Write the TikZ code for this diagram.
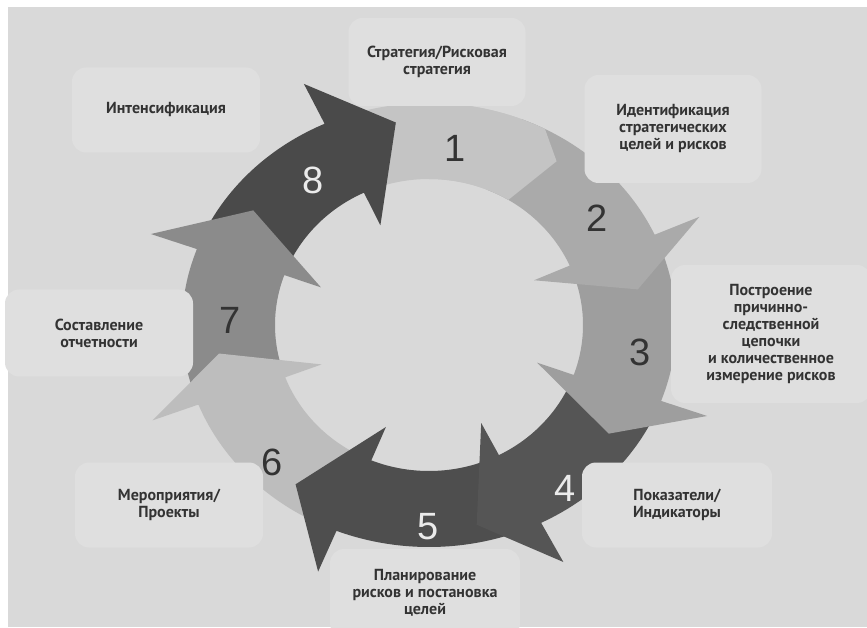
\documentclass[tikz,border=0pt]{standalone}
\usepackage{fontspec}
\setmainfont{PT Sans}
\newfontfamily\numfont{Liberation Sans}
\definecolor{paper}{HTML}{D9D9D9}
\definecolor{boxgray}{HTML}{DFDFDF}
\definecolor{labeltext}{HTML}{333333}
\definecolor{segA}{HTML}{C4C4C4}
\definecolor{segB}{HTML}{AAAAAA}
\definecolor{segC}{HTML}{9E9E9E}
\definecolor{segD}{HTML}{555555}
\definecolor{segE}{HTML}{4E4E4E}
\definecolor{segF}{HTML}{BDBDBD}
\definecolor{segG}{HTML}{8B8B8B}
\definecolor{segH}{HTML}{4A4A4A}
% #1 colour, #2 tail angle, #3 head base angle, #4 tip angle
% ring: outer 247/222, inner 154/146, barbs 296/266 and 115/110, tip 212/205
\newcommand{\ringarrow}[4]{%
  \fill[#1] (#2:247pt and 222pt) arc[start angle=#2, end angle=#3, x radius=247pt, y radius=222pt]
    -- (#3:296pt and 266pt) -- (#4:212pt and 205pt) -- (#3:115pt and 110pt)
    -- (#3:154pt and 146pt) arc[start angle=#3, end angle=#2, x radius=154pt, y radius=146pt] -- cycle;}
% arrow 1 ends in a plain point
\newcommand{\firstarrow}{%
  \fill[segA] (118:247pt and 222pt) arc[start angle=118, end angle=62, x radius=247pt, y radius=222pt]
    -- (53:212pt and 205pt) -- (59:154pt and 146pt)
    arc[start angle=59, end angle=118, x radius=154pt, y radius=146pt] -- cycle;}
\tikzset{
  stage/.style={fill=boxgray, rounded corners=14pt, text=labeltext, align=center,
    font=\bfseries\fontsize{16}{17}\selectfont, inner sep=0pt},
  darknum/.style={font=\numfont\fontsize{38}{38}\selectfont, text=labeltext},
  lightnum/.style={font=\numfont\fontsize{38}{38}\selectfont, text=white!92!black},
}
\begin{document}
\begin{tikzpicture}[x=1pt,y=1pt]
  \useasboundingbox (0,0) rectangle (867,627);
  \clip (0,0) rectangle (867,627);
  \fill[white] (0,0) rectangle (867,627);
  \fill[paper] (8,0) rectangle (867,620);

  % cycle of arrows
  \begin{scope}[shift={(429,302)}]
    \firstarrow
    \ringarrow{segH}{-200}{-245}{-261}
    \ringarrow{segG}{-159}{-200}{-214}
    \ringarrow{segF}{-112}{-159}{-172}
    \ringarrow{segE}{-63}{-112}{-129}
    \ringarrow{segD}{-20}{-63}{-77}
    \ringarrow{segC}{24}{-20}{-32}
    \ringarrow{segB}{68}{24}{10}
    \begin{scope}
      \clip (0,0) -- (0:400pt) -- (90:400pt) -- cycle;
      \firstarrow
    \end{scope}
  \end{scope}

  \node[darknum] (n1) at (455,479) {1};
  \node[darknum] (n2) at (597,409) {2};
  \node[darknum] (n3) at (640,275) {3};
  \node[lightnum] (n4) at (565,139) {4};
  \node[lightnum] (n5) at (428,100) {5};
  \node[darknum] (n6) at (272,165) {6};
  \node[darknum] (n7) at (230,307) {7};
  \node[lightnum] (n8) at (313,447) {8};

  % labels
  \node[stage, minimum width=177pt, minimum height=88pt] (strategy) at (437,565) {Стратегия/Рисковая\\стратегия};
  \node[stage, minimum width=188pt, minimum height=85pt] (intens) at (166,517) {Интенсификация};
  \node[stage, minimum width=177pt, minimum height=108pt] (ident) at (673,498) {Идентификация\\стратегических\\целей и рисков};
  \node[stage, minimum width=200pt, minimum height=138pt] (chain) at (771,293) {Построение\\причинно-\\следственной\\цепочки\\и количественное\\измерение рисков};
  \node[stage, minimum width=190pt, minimum height=85pt] (kpi) at (677,122) {Показатели/\\Индикаторы};
  \node[stage, minimum width=190pt, minimum height=88pt] (plan) at (425,34) {Планирование\\рисков и постановка\\целей};
  \node[stage, minimum width=188pt, minimum height=85pt] (measures) at (169,122) {Мероприятия/\\Проекты};
  \node[stage, minimum width=188pt, minimum height=87pt] (report) at (99,294) {Составление\\отчетности};
\end{tikzpicture}
\end{document}
